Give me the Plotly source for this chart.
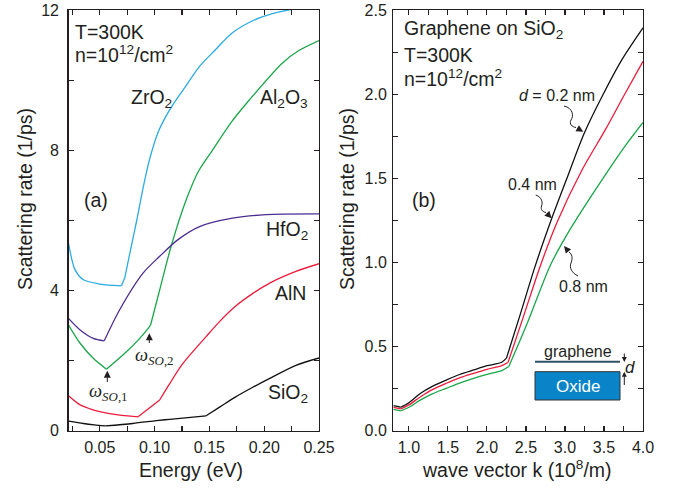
import plotly.graph_objects as go

# ---------------- data ----------------
# Panel (a): scattering rate (1/ps) vs energy (eV)
zro2_x = [0.0214, 0.0273, 0.035, 0.050, 0.0697, 0.0727, 0.078, 0.0837, 0.090, 0.0955, 0.103, 0.110, 0.1167,
          0.130, 0.141, 0.155, 0.171, 0.190, 0.210, 0.226]
zro2_y = [5.35, 4.59, 4.30, 4.18, 4.13, 4.35, 5.15, 6.00, 7.00, 7.75, 8.50, 8.95, 9.30,
          9.90, 10.39, 10.85, 11.35, 11.70, 11.92, 12.02]
zro2_kinks = [4, 5]

al2o3_x = [0.0214, 0.032, 0.044, 0.056, 0.0743, 0.085, 0.093, 0.0963, 0.1046, 0.115, 0.1289, 0.140, 0.153,
           0.170, 0.1866, 0.2167, 0.232, 0.25]
al2o3_y = [3.01, 2.49, 2.06, 1.75, 2.25, 2.58, 2.87, 3.01, 4.01, 5.25, 6.59, 7.40, 8.01,
           8.80, 9.44, 10.49, 10.85, 11.13]
al2o3_kinks = [3, 7]

hfo2_x = [0.0214, 0.032, 0.044, 0.054, 0.068, 0.0894, 0.1046, 0.121, 0.141, 0.171, 0.2016, 0.25]
hfo2_y = [3.20, 2.87, 2.63, 2.56, 3.44, 4.49, 4.97, 5.44, 5.82, 6.06, 6.16, 6.18]
hfo2_kinks = [3]

aln_x = [0.0214, 0.032, 0.041, 0.050, 0.065, 0.0849, 0.1046, 0.1136, 0.126, 0.147, 0.159, 0.174, 0.190,
         0.2046, 0.2289, 0.25]
aln_y = [0.99, 0.73, 0.62, 0.54, 0.45, 0.39, 0.87, 1.33, 1.92, 2.68, 3.10, 3.55, 3.92,
         4.20, 4.54, 4.76]
aln_kinks = [5, 6]

sio2_x = [0.0214, 0.035, 0.045, 0.055, 0.080, 0.1016, 0.1137, 0.147, 0.160, 0.174, 0.190, 0.2046, 0.2289, 0.25]
sio2_y = [0.27, 0.20, 0.16, 0.13, 0.20, 0.28, 0.32, 0.42, 0.68, 0.96, 1.24, 1.48, 1.86, 2.07]
sio2_kinks = [3, 7]

# Panel (b): scattering rate (1/ps) vs wave vector k (1e8/m)
d02_x = [0.80, 0.85, 0.895, 1.0, 1.15, 1.30, 1.48, 1.65, 1.83, 2.0, 2.19, 2.25, 2.42, 2.62, 2.83, 3.05,
         3.24, 3.48, 3.73, 4.0]
d02_y = [0.148, 0.143, 0.138, 0.165, 0.221, 0.262, 0.300, 0.333, 0.360, 0.385, 0.406, 0.430, 0.680, 0.980,
         1.260, 1.530, 1.760, 1.990, 2.205, 2.394]
d02_kinks = [2, 11]

d04_x = [0.80, 0.85, 0.895, 1.0, 1.15, 1.30, 1.48, 1.65, 1.83, 2.0, 2.19, 2.27, 2.47, 2.685, 2.90, 3.22,
         3.52, 3.76, 4.0]
d04_y = [0.138, 0.133, 0.128, 0.152, 0.201, 0.243, 0.281, 0.313, 0.340, 0.364, 0.386, 0.404, 0.680, 0.980,
         1.240, 1.550, 1.790, 1.995, 2.195]
d04_kinks = [2, 11]

d08_x = [0.80, 0.85, 0.895, 1.0, 1.15, 1.30, 1.48, 1.65, 1.83, 2.0, 2.19, 2.28, 2.51, 2.81, 3.02, 3.22,
         3.56, 3.80, 4.0]
d08_y = [0.126, 0.121, 0.116, 0.138, 0.182, 0.218, 0.251, 0.282, 0.310, 0.333, 0.356, 0.380, 0.630, 0.980,
         1.160, 1.310, 1.550, 1.710, 1.832]
d08_kinks = [2, 11]

# tick labels
xa_ticks = [0.025, 0.05, 0.075, 0.10, 0.125, 0.15, 0.175, 0.20, 0.225, 0.25]
xa_text = ["", "0.05", "", "0.10", "", "0.15", "", "0.20", "", "0.25"]
ya_ticks = [0, 2, 4, 6, 8, 10, 12]
ya_text = ["0", "", "4", "", "8", "", "12"]
xb_ticks = [1.0, 1.25, 1.5, 1.75, 2.0, 2.25, 2.5, 2.75, 3.0, 3.25, 3.5, 3.75, 4.0]
xb_text = ["1.0", "", "1.5", "", "2.0", "", "2.5", "", "3.0", "", "3.5", "", "4.0"]
yb_ticks = [0, 0.25, 0.5, 0.75, 1.0, 1.25, 1.5, 1.75, 2.0, 2.25, 2.5]
yb_text = ["0.0", "", "0.5", "", "1.0", "", "1.5", "", "2.0", "", "2.5"]

# ---------------- styling ----------------
W, H = 684, 489
FONT = "Liberation Sans, Arial, Helvetica, sans-serif"
SERIF = "Liberation Serif, Times New Roman, serif"
INK = "#231f20"
C_BLUE = "#29abe2"
C_GREEN = "#1aa64a"
C_PURPLE = "#4b2c91"
C_RED = "#ec1c3c"
C_BLACK = "#111111"


def PX(x):
    # window pixel -> paper fraction
    return x / W


def PY(y):
    return 1 - y / H


fig = go.Figure()
LW = 1.3


def add_curve(xs, ys, kinks, color, xa, ya):
    # smooth pieces between the sharp kinks of each curve
    cuts = [0] + list(kinks) + [len(xs) - 1]
    for a, b in zip(cuts[:-1], cuts[1:]):
        fig.add_trace(go.Scatter(x=xs[a:b + 1], y=ys[a:b + 1], mode="lines",
                                 line=dict(color=color, width=LW, shape="spline", smoothing=0.8),
                                 xaxis=xa, yaxis=ya, showlegend=False, hoverinfo="skip"))


for xs, ys, k, c in [(sio2_x, sio2_y, sio2_kinks, C_BLACK), (aln_x, aln_y, aln_kinks, C_RED),
                     (al2o3_x, al2o3_y, al2o3_kinks, C_GREEN), (hfo2_x, hfo2_y, hfo2_kinks, C_PURPLE),
                     (zro2_x, zro2_y, zro2_kinks, C_BLUE)]:
    add_curve(xs, ys, k, c, "x", "y")

for xs, ys, k, c in [(d08_x, d08_y, d08_kinks, C_GREEN), (d04_x, d04_y, d04_kinks, C_RED),
                     (d02_x, d02_y, d02_kinks, C_BLACK)]:
    add_curve(xs, ys, k, c, "x2", "y2")

ydom = [PY(430.5), PY(10)]
axis_common = dict(showline=True, linecolor=INK, linewidth=1.3, mirror="ticks", ticks="inside",
                   ticklen=5, tickwidth=1.1, tickcolor=INK, showgrid=False, zeroline=False,
                   automargin=False,
                   tickfont=dict(family=FONT, size=16, color=INK), tickmode="array", fixedrange=True)

fig.update_layout(
    template="none",
    width=W, height=H, margin=dict(l=0, r=0, t=0, b=0, autoexpand=False),
    paper_bgcolor="white", plot_bgcolor="white", showlegend=False,
    xaxis=dict(domain=[PX(68.5), PX(319)], range=[0.0214, 0.25], anchor="y",
               tickvals=xa_ticks, ticktext=xa_text, ticklabelstandoff=2, **axis_common),
    yaxis=dict(domain=ydom, range=[0, 12], anchor="x",
               tickvals=ya_ticks, ticktext=ya_text, ticklabelstandoff=5, **axis_common),
    xaxis2=dict(domain=[PX(393.3), PX(643)], range=[0.8, 4.0], anchor="y2",
                tickvals=xb_ticks, ticktext=xb_text, ticklabelstandoff=2, **axis_common),
    yaxis2=dict(domain=ydom, range=[0, 2.5], anchor="x2",
                tickvals=yb_ticks, ticktext=yb_text, ticklabelstandoff=2, **axis_common),
)

ann = []


def text(x, y, s, size=19.5, xanchor="center", color=INK, family=FONT, yanchor="middle", angle=0):
    ann.append(dict(x=PX(x), y=PY(y), xref="paper", yref="paper", text=s, showarrow=False,
                    xanchor=xanchor, yanchor=yanchor, textangle=angle,
                    font=dict(family=family, size=size, color=color)))


def arrow(tipx, tipy, tailx, taily, size=1.4, width=1.0):
    ann.append(dict(x=PX(tipx), y=PY(tipy), xref="paper", yref="paper", text=" ", showarrow=True,
                    ax=tailx - tipx, ay=taily - tipy, axref="pixel", ayref="pixel",
                    arrowhead=2, arrowsize=size, arrowwidth=width, arrowcolor=INK, standoff=0,
                    startstandoff=0, font=dict(size=1)))


# axis titles
text(25, 199, "Scattering rate (1/ps)", angle=-90)
text(347, 199, "Scattering rate (1/ps)", angle=-90)
text(191, 470, "Energy (eV)")
text(517, 469, "wave vector k (10<sup>8</sup>/m)")

# panel (a) labels
text(73, 32, "T=300K", xanchor="left")
text(73, 54, "n=10<sup>12</sup>/cm<sup>2</sup>", xanchor="left")
text(151, 99, "ZrO<sub>2</sub>")
text(284, 99, "Al<sub>2</sub>O<sub>3</sub>")
text(96, 200, "(a)")
text(287, 231, "HfO<sub>2</sub>")
text(290, 293, "AlN")
text(288, 393, "SiO<sub>2</sub>")
text(108.7, 392, "<i>ω</i><sub><i>SO</i>,1</sub>", size=18.5, family=SERIF)
text(154, 356, "<i>ω</i><sub><i>SO</i>,2</sub>", size=18.5, family=SERIF)
arrow(107.3, 370.7, 107.3, 384)
arrow(149.3, 333.3, 149.3, 345)

# panel (b) labels
text(401.7, 30, "Graphene on SiO<sub>2</sub>", xanchor="left")
text(401.7, 55, "T=300K", xanchor="left")
text(401.7, 78, "n=10<sup>12</sup>/cm<sup>2</sup>", xanchor="left")
text(424, 200, "(b)")
text(556.7, 96, "<i>d</i> = 0.2 nm", size=16)
text(532, 184, "0.4 nm", size=16)
text(583, 286, "0.8 nm", size=16)


# squiggly arrows (decorations, window pixel coords -> paper)
def P(x, y):
    return f"{PX(x):.5f},{PY(y):.5f}"


shapes = []
for pts in [
    [(564, 106), (573, 108), (574, 116), (571, 120), (569, 124), (572, 127), (576, 127.5)],
    [(535.7, 195), (542, 197), (543, 203), (541.5, 206), (540.5, 209.5), (542.5, 212), (546, 212.5)],
    [(578, 276), (572, 273), (569, 268), (571, 263), (573, 258), (572, 254), (569, 252)],
]:
    p = "M " + P(*pts[0]) + " C " + P(*pts[1]) + " " + P(*pts[2]) + " " + P(*pts[3]) + \
        " C " + P(*pts[4]) + " " + P(*pts[5]) + " " + P(*pts[6])
    shapes.append(dict(type="path", path=p, xref="paper", yref="paper", line=dict(color=INK, width=1)))

arrow(583.3, 131.7, 576, 127.5)
arrow(551.7, 218.3, 546, 212.5)
arrow(564, 246, 569, 252)

# inset: graphene over oxide
shapes.append(dict(type="line", x0=PX(535), x1=PX(620), y0=PY(361.7), y1=PY(361.7), xref="paper", yref="paper",
                   line=dict(color="#2f5266", width=2)))
shapes.append(dict(type="rect", x0=PX(535), x1=PX(620), y0=PY(400), y1=PY(371.7), xref="paper", yref="paper",
                   line=dict(color="#333333", width=1), fillcolor="#0a84c8"))
text(578, 351, "graphene", size=16)
text(578, 386, "Oxide", size=17, color="white")
text(630, 367, "<i>d</i>", size=17)
arrow(624.3, 362, 624.3, 351.5, size=1.0)
arrow(624.3, 371.7, 624.3, 387, size=1.0)

fig.update_layout(annotations=ann, shapes=shapes)
# remove the browser's default 8px page margin so the figure fills the window exactly
fig.write_html("out.html", config={"displayModeBar": False, "staticPlot": True},
               post_script="document.body.style.margin='0px';")
